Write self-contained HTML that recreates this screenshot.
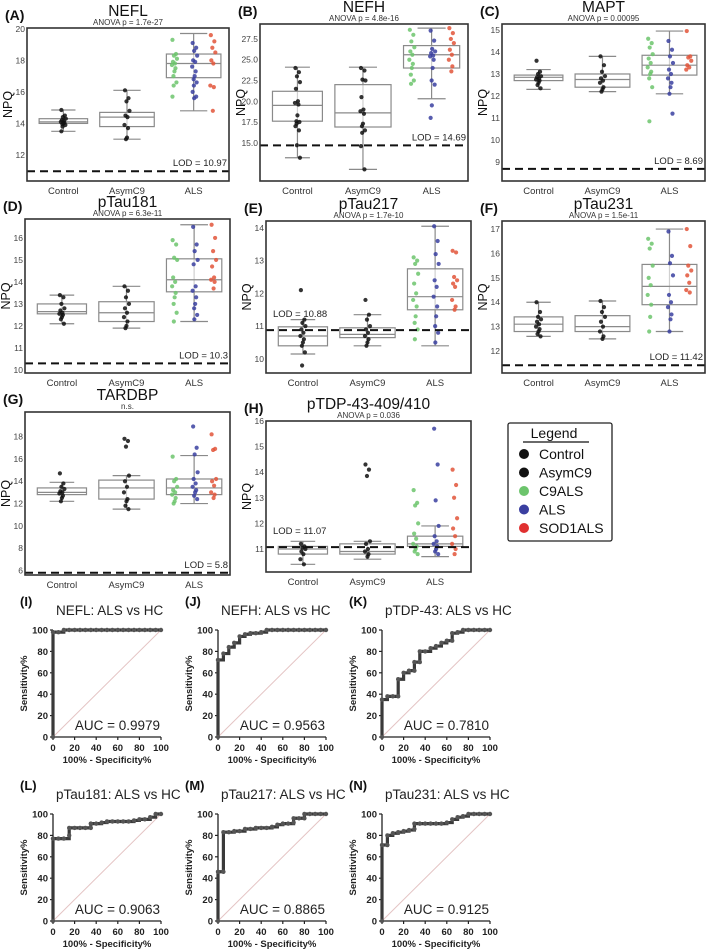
<!DOCTYPE html>
<html><head><meta charset="utf-8">
<style>
html,body{margin:0;padding:0;background:#fff;}
svg{display:block;font-family:"Liberation Sans",sans-serif;}
</style></head>
<body>
<svg id="fig" width="709" height="952" viewBox="0 0 709 952" xmlns="http://www.w3.org/2000/svg"></svg>
<script>
// ---------- DATA: box/strip panels ----------
const categories = ["Control","AsymC9","ALS"];
const neflBox = [[13.5,14.0,14.1,14.3,14.85],[13.0,13.8,14.4,14.7,16.1],[14.8,16.9,17.8,18.4,19.7]];
const neflCtrl = [14.85,14.5,14.4,14.3,14.2,14.15,14.1,14.05,14.0,13.95,13.9,13.8,13.5];
const neflAsym = [16.1,15.6,15.4,14.8,14.5,14.4,13.9,13.7,13.1,13.0];
const neflC9 = [19.3,18.4,18.3,18.1,17.9,17.8,17.7,17.5,17.3,17.0,16.6,16.4,15.7];
const neflALS = [19.1,18.8,18.6,18.3,18.0,17.9,17.6,17.3,17.0,16.8,16.6,16.4,16.0,15.7,15.6];
const neflSOD = [19.6,19.2,18.8,18.5,18.0,17.8,16.4,16.3,14.8];

const nefhBox = [[13.2,17.6,19.5,21.2,24.1],[11.8,16.9,18.6,22.0,24.1],[20.3,24.0,25.6,26.7,28.8]];
const nefhCtrl = [24.0,23.5,23.0,22.3,21.5,20.0,19.8,19.6,18.3,17.6,17.5,17.3,17.0,16.5,14.7,13.2];
const nefhAsym = [24.0,23.7,22.6,22.5,20.5,19.0,18.8,18.5,17.3,17.0,16.5,16.2,14.6,11.8];
const nefhC9 = [28.6,28.0,27.2,26.5,26.0,25.6,25.0,24.5,24.0,23.2,22.5,22.1];
const nefhALS = [28.5,27.3,26.3,26.0,25.8,25.5,25.4,25.0,24.0,22.5,22.0,19.5,18.0];
const nefhSOD = [28.8,28.2,27.5,27.0,26.2,25.6,25.0,24.2,23.6];

const maptBox = [[12.3,12.7,12.85,12.95,13.2],[12.2,12.4,12.75,13.0,13.8],[12.1,12.95,13.4,13.85,14.95]];
const maptCtrl = [13.6,13.1,13.0,12.9,12.85,12.8,12.75,12.7,12.6,12.5,12.35];
const maptAsym = [13.8,13.4,13.1,12.9,12.8,12.7,12.6,12.4,12.3,12.2];
const maptC9 = [14.6,14.4,14.2,13.9,13.7,13.5,13.3,13.1,13.0,12.8,12.4,10.85];
const maptALS = [14.5,14.1,13.8,13.5,13.2,13.0,12.8,12.6,12.4,12.1,11.2];
const maptSOD = [14.95,13.8,13.75,13.6,13.4,13.3,13.2];

const p181Box = [[12.1,12.55,12.65,13.0,13.4],[11.9,12.2,12.6,13.1,13.8],[12.2,13.55,14.1,15.05,16.6]];
const p181Ctrl = [13.4,13.3,13.0,12.8,12.7,12.6,12.55,12.5,12.4,12.3,12.1];
const p181Asym = [13.8,13.6,13.3,13.0,12.8,12.6,12.4,12.2,12.0,11.9];
const p181C9 = [15.9,15.7,15.1,15.0,14.2,14.0,13.8,13.5,13.3,13.0,12.6,12.2];
const p181ALS = [16.5,15.7,15.4,15.0,14.8,13.8,13.6,13.3,13.0,12.8,12.5,12.3];
const p181SOD = [16.6,16.0,15.4,15.0,14.7,14.2,14.1,14.0,13.7];

const p217Box = [[10.15,10.4,10.7,10.98,11.2],[10.4,10.65,10.75,10.95,11.35],[10.4,11.5,11.9,12.75,14.05]];
const p217Ctrl = [12.1,11.2,11.1,11.0,10.9,10.8,10.7,10.6,10.5,10.4,10.2,9.8];
const p217Asym = [11.8,11.35,11.2,11.0,10.9,10.8,10.7,10.6,10.5,10.4];
const p217C9 = [13.1,13.0,12.9,12.6,12.3,12.0,11.8,11.6,11.3,11.1,10.9,10.6];
const p217ALS = [14.05,13.6,13.2,12.9,12.4,12.2,11.9,11.6,11.3,11.0,10.8,10.5];
const p217SOD = [13.3,13.25,12.5,12.4,12.3,12.2,11.8,11.6,11.5];

const p231Box = [[12.6,12.8,13.1,13.4,14.0],[12.5,12.8,13.0,13.45,14.05],[12.8,13.9,14.65,15.55,17.0]];
const p231Ctrl = [14.0,13.6,13.4,13.3,13.2,13.1,13.0,12.9,12.8,12.7,12.6];
const p231Asym = [14.05,13.8,13.6,13.4,13.2,13.0,12.8,12.6,12.5];
const p231C9 = [16.6,16.4,16.2,15.5,15.0,14.7,14.3,13.9,13.4,12.8];
const p231ALS = [16.9,15.9,15.6,15.1,14.3,14.0,13.8,13.5,13.3,12.8];
const p231SOD = [17.0,16.3,15.5,15.3,15.1,14.8,14.5,14.4];

const tdpBox = [[12.2,12.8,13.0,13.4,13.9],[11.5,12.4,13.4,14.1,14.5],[12.0,12.8,13.4,14.2,16.3]];
const tdpCtrl = [14.7,13.8,13.5,13.3,13.1,13.0,12.9,12.7,12.5,12.2];
const tdpAsym = [17.8,17.6,17.1,14.5,14.0,13.5,13.0,12.4,12.2,11.8,11.5];
const tdpC9 = [16.2,14.2,14.0,13.5,13.2,13.0,12.8,12.5,12.2,12.0];
const tdpALS = [18.9,17.0,16.4,14.8,14.2,13.8,13.5,13.2,13.0,12.7,12.4];
const tdpSOD = [18.2,16.9,16.8,14.2,14.0,13.6,13.0,12.8,12.5];

const ptdpBox = [[10.4,10.8,11.0,11.1,11.3],[10.6,10.8,10.9,11.2,11.3],[10.7,11.1,11.2,11.5,11.9]];
const ptdpCtrl = [11.2,11.1,11.05,11.0,10.9,10.8,10.6,10.4];
const ptdpAsym = [14.3,14.1,13.85,11.3,11.2,11.0,10.9,10.8,10.7];
const ptdpC9 = [13.3,12.8,12.7,12.0,11.6,11.4,11.2,11.1,11.0,10.9,10.8];
const ptdpALS = [15.7,14.3,12.9,11.9,11.5,11.3,11.2,11.1,11.0,10.9,10.8];
const ptdpSOD = [14.1,13.5,13.0,12.2,11.8,11.5,11.2,11.0,10.8];

const lodValues = [10.97,14.69,8.69,10.3,10.88,11.42,5.8,11.07];
const neflTicks=[12,14,16,18,20], nefhTicks=[15.0,17.5,20.0,22.5,25.0,27.5], maptTicks=[9,10,11,12,13,14,15];
const p181Ticks=[10,11,12,13,14,15,16], p217Ticks=[10,11,12,13,14], p231Ticks=[12,13,14,15,16,17];
const tdpTicks=[6,8,10,12,14,16,18], ptdpTicks=[11,12,13,14,15,16];

// ---------- DATA: ROC ----------
const rocI_fpr=[0,0,5,10,15,20,25,30,35,40,45,50,55,60,65,70,75,80,85,90,95,100];
const rocI_tpr=[0,98,98,100,100,100,100,100,100,100,100,100,100,100,100,100,100,100,100,100,100,100];
const rocJ_fpr=[0,0,5,10,15,20,25,30,35,40,45,50,55,60,65,70,75,80,85,90,95,100];
const rocJ_tpr=[0,72,78,84,88,94,96,97,97,98,100,100,100,100,100,100,100,100,100,100,100,100];
const rocK_fpr=[0,0,5,10,15,15,20,25,30,30,35,35,40,45,50,55,60,65,65,70,75,80,85,90,95,100];
const rocK_tpr=[0,35,38,38,38,54,60,62,62,70,70,80,80,83,85,88,90,90,97,98,100,100,100,100,100,100];
const rocL_fpr=[0,0,5,10,15,15,20,25,30,35,35,40,45,50,55,60,65,70,75,80,85,90,95,100];
const rocL_tpr=[0,77,77,77,80,87,87,87,87,87,91,91,92,93,93,93,93,93,94,95,95,97,100,100];
const rocM_fpr=[0,0,5,5,10,15,20,25,30,35,40,45,50,55,60,65,70,70,75,80,80,85,90,95,100];
const rocM_tpr=[0,46,46,83,83,84,84,86,86,87,87,87,88,90,91,91,92,96,96,96,100,100,100,100,100];
const rocN_fpr=[0,0,5,5,10,15,20,25,30,30,35,40,45,50,55,60,65,70,75,80,85,90,95,100];
const rocN_tpr=[0,71,71,80,82,83,84,85,86,91,91,91,91,91,91,92,95,97,98,100,100,100,100,100];
const rocAUC=["0.9979","0.9563","0.7810","0.9063","0.8865","0.9125"];

// ---------- drawing ----------
const svg=document.getElementById('fig');
const NS='http://www.w3.org/2000/svg';
function mk(tag,attrs,parent){const e=document.createElementNS(NS,tag);for(const k in attrs)e.setAttribute(k,attrs[k]);(parent||svg).appendChild(e);return e;}
function txt(s,attrs,parent){const e=mk('text',attrs,parent);e.textContent=s;return e;}
const COL={g:'#6cc46c',b:'#3a3fa0',r:'#e2553a',k:'#111'};

const boxPanels=[
 {lab:'(A)',title:'NEFL',sub:'ANOVA p = 1.7e-27',x0:27,x1:229,y0:28,y1:181,d0:10.35,d1:20.05,ticks:neflTicks,fmt:0,box:neflBox,c:neflCtrl,a:neflAsym,g:neflC9,b:neflALS,r:neflSOD,lod:0,lodLeft:false},
 {lab:'(B)',title:'NEFH',sub:'ANOVA p = 4.8e-16',x0:260,x1:468,y0:24,y1:181,d0:10.4,d1:29.3,ticks:nefhTicks,fmt:1,box:nefhBox,c:nefhCtrl,a:nefhAsym,g:nefhC9,b:nefhALS,r:nefhSOD,lod:1,lodLeft:false},
 {lab:'(C)',title:'MAPT',sub:'ANOVA p = 0.00095',x0:502,x1:705,y0:24,y1:181,d0:8.14,d1:15.27,ticks:maptTicks,fmt:0,box:maptBox,c:maptCtrl,a:maptAsym,g:maptC9,b:maptALS,r:maptSOD,lod:2,lodLeft:false},
 {lab:'(D)',title:'pTau181',sub:'ANOVA p = 6.3e-11',x0:25,x1:230,y0:219,y1:373,d0:9.86,d1:16.86,ticks:p181Ticks,fmt:0,box:p181Box,c:p181Ctrl,a:p181Asym,g:p181C9,b:p181ALS,r:p181SOD,lod:3,lodLeft:false},
 {lab:'(E)',title:'pTau217',sub:'ANOVA p = 1.7e-10',x0:266,x1:471,y0:221,y1:373,d0:9.57,d1:14.21,ticks:p217Ticks,fmt:0,box:p217Box,c:p217Ctrl,a:p217Asym,g:p217C9,b:p217ALS,r:p217SOD,lod:4,lodLeft:true},
 {lab:'(F)',title:'pTau231',sub:'ANOVA p = 1.5e-11',x0:502,x1:705,y0:221,y1:373,d0:11.1,d1:17.33,ticks:p231Ticks,fmt:0,box:p231Box,c:p231Ctrl,a:p231Asym,g:p231C9,b:p231ALS,r:p231SOD,lod:5,lodLeft:false},
 {lab:'(G)',title:'TARDBP',sub:'n.s.',x0:25,x1:230,y0:412,y1:575,d0:5.6,d1:20.2,ticks:tdpTicks,fmt:0,box:tdpBox,c:tdpCtrl,a:tdpAsym,g:tdpC9,b:tdpALS,r:tdpSOD,lod:6,lodLeft:false},
 {lab:'(H)',title:'pTDP-43-409/410',sub:'ANOVA p = 0.036',x0:266,x1:471,y0:421,y1:572,d0:10.1,d1:16.0,ticks:ptdpTicks,fmt:0,box:ptdpBox,c:ptdpCtrl,a:ptdpAsym,g:ptdpC9,b:ptdpALS,r:ptdpSOD,lod:7,lodLeft:true},
];
const jit=[-2,1.5,-0.5,2.5,-1.5,0.5,-2.5,1,0,-1,2,-0.8];

boxPanels.forEach((p,pi)=>{
 const grp=mk('g',{});
 
 
 const W=p.x1-p.x0;
 const y=v=>p.y1-(v-p.d0)/(p.d1-p.d0)*(p.y1-p.y0);
 const xf=f=>p.x0+f*W;
 const cx=(p.x0+p.x1)/2;
 const pl=txt(p.lab,{x:p.x0-22,y:p.y0-8,'font-size':14,'font-weight':'bold',fill:'#111'},grp);
 
 
 const t=txt(p.title,{x:cx,y:p.y0-12,'font-size':15.5,'text-anchor':'middle',fill:'#111'},grp);
 
 
 const s=txt(p.sub,{x:cx,y:p.y0-3,'font-size':8,'text-anchor':'middle',fill:'#333'},grp);
 
 
 const yt=txt('NPQ',{x:0,y:0,'font-size':12.5,'text-anchor':'middle',fill:'#111',transform:`translate(${p.x0-15},${(p.y0+p.y1)/2}) rotate(-90)`},grp);
 
 
 p.ticks.forEach(v=>{
  const yy=y(v); if(yy<p.y0-2||yy>p.y1+2) return;
  const tk=txt(p.fmt?v.toFixed(1):String(v),{x:p.x0-2,y:yy+3,'font-size':8.5,'text-anchor':'end',fill:'#444'},grp);
  
  
 });
 const centers=[0.18,0.495,0.825], halfw=[0.12,0.135,0.135];
 p.box.forEach((b,i)=>{
  const c=xf(centers[i]), hw=halfw[i]*W, cap=hw*0.5;
  const col='#8a8a8a';
  const wl=mk('line',{x1:c,x2:c,y1:y(b[0]),y2:y(b[4]),stroke:col,'stroke-width':1.2},grp);
  
  
  [b[0],b[4]].forEach(v=>{const cp=mk('line',{x1:c-cap,x2:c+cap,y1:y(v),y2:y(v),stroke:col,'stroke-width':1.2},grp);
   
   });
  const r=mk('rect',{x:c-hw,y:y(b[3]),width:2*hw,height:y(b[1])-y(b[3]),fill:'#fff','fill-opacity':0.6,stroke:col,'stroke-width':1.2},grp);
  
  
  const m=mk('line',{x1:c-hw,x2:c+hw,y1:y(b[2]),y2:y(b[2]),stroke:col,'stroke-width':1.2},grp);
  
  
 });
 const series=[[p.c,0.18,COL.k,'control'],[p.a,0.495,COL.k,'asymc9'],[p.g,0.73,COL.g,'c9als'],[p.b,0.83,COL.b,'als'],[p.r,0.92,COL.r,'sod1als']];
 series.forEach(([vals,f,col,nm])=>{
  vals.forEach((v,k)=>{
   const d=mk('circle',{cx:xf(f)+jit[k%jit.length],cy:y(v),r:2.1,fill:col,'fill-opacity':0.85},grp);
   
   
  });
 });
 const lv=lodValues[p.lod], ly=y(lv);
 const ll=mk('line',{x1:p.x0,x2:p.x1,y1:ly,y2:ly,stroke:'#111','stroke-width':2,'stroke-dasharray':'8 5'},grp);
 
 
 const lt=txt('LOD = '+lv,p.lodLeft?{x:p.x0+7,y:ly-13,'font-size':9.5,fill:'#222'}:{x:p.x1-2,y:ly-5,'font-size':9.5,'text-anchor':'end',fill:'#222'},grp);
 
 
 const fr=mk('rect',{x:p.x0,y:p.y0,width:W,height:p.y1-p.y0,fill:'none',stroke:'#333','stroke-width':1.6},grp);
 
 
 categories.forEach((c,i)=>{
  const cl=txt(c,{x:xf(centers[i]),y:p.y1+13,'font-size':9.5,'text-anchor':'middle',fill:'#333'},grp);
  
  
 });
});

// legend
const lg=mk('g',{});


const lb=mk('rect',{x:508,y:423,width:104,height:118,rx:2,fill:'#fff',stroke:'#222','stroke-width':1.3},lg);


const lgt=txt('Legend',{x:554,y:438,'font-size':14,'text-anchor':'middle',fill:'#111'},lg);


const lu=mk('line',{x1:523,x2:589,y1:442,y2:442,stroke:'#111','stroke-width':1.3},lg);


const legNames=['Control','AsymC9','C9ALS','ALS','SOD1ALS'], legCols=['#111','#111','#6cc46c','#3a3fa0','#e03030'];
legNames.forEach((n,i)=>{
 const yy=454+i*18.5;
 const c=mk('circle',{cx:524,cy:yy,r:5,fill:legCols[i]},lg);
 
 
 const t=txt(n,{x:539,y:yy+5,'font-size':14,fill:'#111'},lg);
 
 
});

// ROC panels
const rocPanels=[
 {lab:'(I)',title:'NEFL: ALS vs HC',x0:53,y0:630,fpr:rocI_fpr,tpr:rocI_tpr},
 {lab:'(J)',title:'NEFH: ALS vs HC',x0:218,y0:630,fpr:rocJ_fpr,tpr:rocJ_tpr},
 {lab:'(K)',title:'pTDP-43: ALS vs HC',x0:382,y0:630,fpr:rocK_fpr,tpr:rocK_tpr},
 {lab:'(L)',title:'pTau181: ALS vs HC',x0:53,y0:814,fpr:rocL_fpr,tpr:rocL_tpr},
 {lab:'(M)',title:'pTau217: ALS vs HC',x0:218,y0:814,fpr:rocM_fpr,tpr:rocM_tpr},
 {lab:'(N)',title:'pTau231: ALS vs HC',x0:382,y0:814,fpr:rocN_fpr,tpr:rocN_tpr},
];
const rocTicks=[0,20,40,60,80,100];
rocPanels.forEach((p,pi)=>{
 const g=mk('g',{});
 
 
 const W=108,H=107;
 const X=v=>p.x0+v/100*W, Y=v=>p.y0+H-v/100*H;
 const l=txt(p.lab,{x:p.x0-33,y:p.y0-24,'font-size':13,'font-weight':'bold',fill:'#111'},g);
 
 
 const t=txt(p.title,{x:p.x0+3,y:p.y0-15,'font-size':13.5,fill:'#222'},g);
 
 
 const dg=mk('line',{x1:X(0),y1:Y(0),x2:X(100),y2:Y(100),stroke:'#e4c4c4','stroke-width':1},g);
 
 
 const ax=mk('path',{d:`M${X(0)},${Y(100)}V${Y(0)}H${X(100)}`,fill:'none',stroke:'#222','stroke-width':1.3},g);
 
 
 rocTicks.forEach(v=>{
  mk('line',{x1:X(0)-3,x2:X(0),y1:Y(v),y2:Y(v),stroke:'#222','stroke-width':1.2},g);
  mk('line',{x1:X(v),x2:X(v),y1:Y(0),y2:Y(0)+3,stroke:'#222','stroke-width':1.2},g);
  const yl=txt(String(v),{x:X(0)-5,y:Y(v)+3.5,'font-size':9.5,'font-weight':'bold','text-anchor':'end',fill:'#222'},g);
  
  
  const xl=txt(String(v),{x:X(v),y:Y(0)+14,'font-size':9.5,'font-weight':'bold','text-anchor':'middle',fill:'#222'},g);
  
  
 });
 const yt=txt('Sensitivity%',{x:0,y:0,'font-size':9.5,'font-weight':'bold','text-anchor':'middle',fill:'#222',transform:`translate(${p.x0-26},${p.y0+H/2}) rotate(-90)`},g);
 
 
 const xt=txt('100% - Specificity%',{x:p.x0+W/2,y:p.y0+H+26,'font-size':9.5,'font-weight':'bold','text-anchor':'middle',fill:'#222'},g);
 
 
 let d='';
 p.fpr.forEach((f,i)=>{
  if(i===0){d+=`M${X(f)},${Y(p.tpr[i])}`;}
  else{d+=`H${X(f)}V${Y(p.tpr[i])}`;}
 });
 const cv=mk('path',{d:d,fill:'none',stroke:'#3a3a3a','stroke-width':3.2},g);
 
 
 p.fpr.forEach((f,i)=>{
  const m=mk('circle',{cx:X(f),cy:Y(p.tpr[i]),r:2.2,fill:'#555'},g);
  
  
 });
 const a=txt('AUC = '+rocAUC[pi],{x:p.x0+W-1,y:p.y0+H-7,'font-size':13.5,'text-anchor':'end',fill:'#222'},g);
 
 
});
</script>
</body></html>
